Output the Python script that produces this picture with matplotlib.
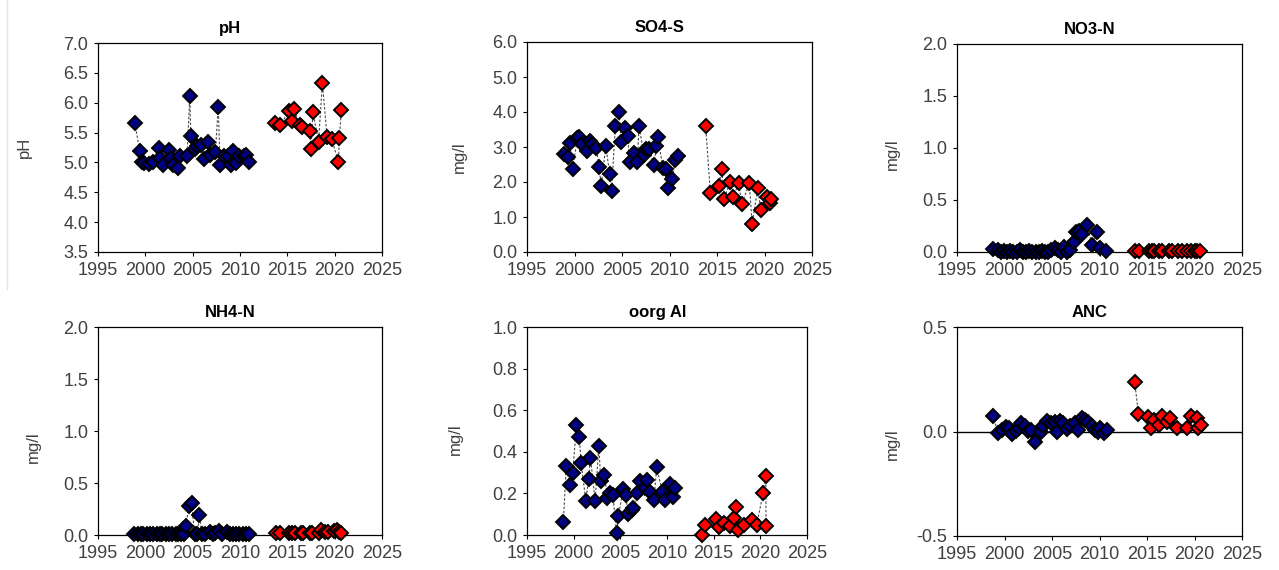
import matplotlib
matplotlib.use("Agg")
import matplotlib.pyplot as plt
from matplotlib.lines import Line2D

plt.rcParams["font.family"] = ["Liberation Sans", "DejaVu Sans"]

# --- data (decimal years) ---
ph_blue_x = [1998.9, 1999.4, 1999.6, 1999.9, 2000.4, 2000.8, 2001.4, 2001.6, 2001.9, 2002.5,
             2002.7, 2002.9, 2003.5, 2003.7, 2004.4, 2004.7, 2004.8, 2005.2, 2005.5, 2005.9,
             2006.2, 2006.6, 2006.8, 2007.4, 2007.7, 2007.9, 2008.3, 2008.7, 2009.0, 2009.3,
             2009.6, 2009.9, 2010.4, 2010.6, 2010.9]
ph_blue_y = [5.66, 5.19, 5.01, 4.99, 4.98, 5.00, 5.24, 5.07, 4.96, 5.21,
             5.07, 4.96, 4.91, 5.10, 5.10, 6.12, 5.45, 5.23, 5.27, 5.29,
             5.06, 5.34, 5.13, 5.17, 5.93, 4.95, 5.10, 5.10, 4.96, 5.19,
             4.99, 5.10, 5.10, 5.13, 5.01]
ph_red_x = [2013.7, 2014.2, 2015.2, 2015.5, 2015.7, 2016.3, 2016.6, 2017.4, 2017.5, 2017.7,
            2018.3, 2018.7, 2019.2, 2019.7, 2020.4, 2020.5, 2020.7]
ph_red_y = [5.66, 5.62, 5.86, 5.70, 5.90, 5.62, 5.59, 5.52, 5.23, 5.84,
            5.35, 6.33, 5.43, 5.39, 5.00, 5.41, 5.87]

so4_blue_x = [1998.9, 1999.3, 1999.5, 1999.8, 2000.3, 2000.5, 2000.8, 2001.3, 2001.6, 2001.8,
              2002.3, 2002.6, 2002.8, 2003.3, 2003.7, 2003.9, 2004.3, 2004.7, 2004.9, 2005.3,
              2005.6, 2005.8, 2006.3, 2006.6, 2006.8, 2007.3, 2007.5, 2007.8, 2008.4, 2008.6,
              2008.8, 2009.3, 2009.6, 2009.8, 2010.3, 2010.6, 2010.9]
so4_blue_y = [2.79, 2.72, 3.12, 2.36, 3.25, 3.30, 3.09, 2.90, 3.18, 3.10,
              2.96, 2.44, 1.89, 3.03, 2.23, 1.75, 3.61, 4.01, 3.15, 3.53,
              3.32, 2.58, 2.84, 2.56, 3.61, 2.77, 2.94, 2.94, 2.48, 3.03,
              3.28, 2.39, 2.36, 1.82, 2.08, 2.63, 2.74]
so4_red_x = [2013.8, 2014.3, 2015.2, 2015.5, 2015.7, 2016.4, 2016.7, 2017.3, 2017.6, 2018.4,
             2018.7, 2019.3, 2019.6, 2020.3, 2020.6, 2020.7]
so4_red_y = [3.61, 1.70, 1.89, 2.37, 1.51, 1.99, 1.58, 1.96, 1.37, 1.96,
             0.81, 1.83, 1.19, 1.58, 1.40, 1.51]

no3_blue_x = [1998.8, 1999.3, 1999.6, 1999.9, 2000.3, 2000.6, 2000.9, 2001.3, 2001.6, 2001.9,
              2002.3, 2002.6, 2002.9, 2003.3, 2003.6, 2003.9, 2004.3, 2004.6, 2004.9, 2005.3,
              2005.6, 2005.9, 2006.3, 2006.6, 2006.9, 2007.3, 2007.5, 2007.8, 2008.2, 2008.7,
              2009.2, 2009.7, 2010.1, 2010.7]
no3_blue_y = [0.03, 0.02, 0.00, 0.01, 0.00, 0.01, 0.00, 0.00, 0.02, 0.00,
              0.00, 0.01, 0.00, 0.00, 0.00, 0.01, 0.00, 0.00, 0.02, 0.04,
              0.02, 0.00, 0.05, 0.00, 0.02, 0.10, 0.19, 0.20, 0.17, 0.26,
              0.07, 0.19, 0.04, 0.01]
no3_red_x = [2013.7, 2014.2, 2015.2, 2015.5, 2015.7, 2016.3, 2016.6, 2017.3, 2017.6, 2018.3,
             2018.7, 2019.2, 2019.6, 2020.0, 2020.3, 2020.6]
no3_red_y = [0.005, 0.005, 0.005, 0.005, 0.01, 0.005, 0.005, 0.01, 0.005, 0.005,
             0.005, 0.005, 0.005, 0.005, 0.005, 0.005]

nh4_blue_x = [1998.8, 1999.2, 1999.5, 1999.8, 2000.2, 2000.5, 2000.8, 2001.2, 2001.5, 2001.8,
              2002.2, 2002.5, 2002.8, 2003.2, 2003.5, 2003.8, 2004.1, 2004.3, 2004.6, 2004.9,
              2005.2, 2005.5, 2005.7, 2006.0, 2006.3, 2006.8, 2007.1, 2007.4, 2007.8, 2008.1,
              2008.6, 2008.9, 2009.3, 2009.6, 2009.9, 2010.3, 2010.6, 2010.9]
nh4_blue_y = [0.005, 0.005, 0.005, 0.005, 0.005, 0.005, 0.005, 0.005, 0.005, 0.005,
              0.005, 0.005, 0.005, 0.005, 0.005, 0.005, 0.005, 0.09, 0.28, 0.31,
              0.005, 0.005, 0.19, 0.005, 0.005, 0.03, 0.005, 0.02, 0.04, 0.005,
              0.03, 0.005, 0.005, 0.005, 0.005, 0.005, 0.005, 0.005]
nh4_red_x = [2013.8, 2014.2, 2015.2, 2015.5, 2015.8, 2016.4, 2016.7, 2017.4, 2017.6, 2018.3,
             2018.6, 2019.0, 2019.3, 2019.9, 2020.2, 2020.5, 2020.7]
nh4_red_y = [0.02, 0.02, 0.02, 0.02, 0.02, 0.02, 0.02, 0.02, 0.02, 0.02,
             0.05, 0.03, 0.03, 0.04, 0.05, 0.03, 0.02]

al_blue_x = [1998.9, 1999.2, 1999.6, 1999.9, 2000.3, 2000.6, 2000.8, 2001.3, 2001.6, 2001.8,
             2002.3, 2002.7, 2002.9, 2003.3, 2003.6, 2003.9, 2004.2, 2004.6, 2004.8, 2005.3,
             2005.6, 2005.8, 2006.3, 2006.4, 2006.8, 2007.1, 2007.6, 2007.9, 2008.2, 2008.6,
             2008.9, 2009.5, 2009.8, 2010.3, 2010.6, 2010.9]
al_blue_y = [0.064, 0.33, 0.24, 0.30, 0.53, 0.47, 0.345, 0.165, 0.27, 0.37,
             0.165, 0.43, 0.26, 0.29, 0.18, 0.20, 0.19, 0.008, 0.09, 0.22,
             0.19, 0.10, 0.12, 0.13, 0.20, 0.26, 0.225, 0.265, 0.205, 0.17,
             0.325, 0.205, 0.17, 0.245, 0.185, 0.225]
al_red_x = [2013.8, 2014.1, 2015.2, 2015.6, 2016.1, 2016.7, 2017.2, 2017.4, 2017.6, 2018.3,
            2019.1, 2019.6, 2020.3, 2020.6, 2020.6]
al_red_y = [0.002, 0.05, 0.077, 0.04, 0.06, 0.045, 0.08, 0.135, 0.025, 0.05,
            0.07, 0.048, 0.20, 0.285, 0.045]

anc_blue_x = [1998.8, 1999.3, 1999.7, 2000.2, 2000.5, 2000.8, 2001.2, 2001.5, 2001.7, 2002.2,
              2002.5, 2002.8, 2003.2, 2003.8, 2004.1, 2004.5, 2004.9, 2005.3, 2005.5, 2005.8,
              2006.2, 2006.6, 2006.9, 2007.4, 2007.7, 2008.2, 2008.5, 2008.8, 2009.2, 2009.5,
              2009.8, 2010.1, 2010.5, 2010.8]
anc_blue_y = [0.076, -0.005, 0.008, 0.02, 0.016, -0.013, 0.003, 0.015, 0.04, 0.024,
              0.003, 0.008, -0.048, 0.0, 0.024, 0.05, 0.039, 0.044, 0.0, 0.05,
              0.039, 0.011, 0.027, 0.04, 0.006, 0.064, 0.055, 0.044, 0.027, 0.008,
              0.0, 0.015, -0.005, 0.008]
anc_red_x = [2013.7, 2014.1, 2015.1, 2015.4, 2015.7, 2016.3, 2016.6, 2017.1, 2017.4, 2018.2,
             2019.2, 2019.6, 2020.3, 2020.4, 2020.7]
anc_red_y = [0.239, 0.084, 0.068, 0.016, 0.055, 0.032, 0.073, 0.044, 0.063, 0.019,
             0.019, 0.073, 0.065, 0.019, 0.032]

titles = ["pH", "SO4-S", "NO3-N", "NH4-N", "oorg Al", "ANC"]
ylabels = ["pH", "mg/l", "mg/l", "mg/l", "mg/l", "mg/l"]
ylims = [(3.5, 7.0), (0.0, 6.0), (0.0, 2.0), (0.0, 2.0), (0.0, 1.0), (-0.5, 0.5)]
ysteps = [0.5, 1.0, 0.5, 0.5, 0.2, 0.5]
series = [
    (ph_blue_x, ph_blue_y, ph_red_x, ph_red_y),
    (so4_blue_x, so4_blue_y, so4_red_x, so4_red_y),
    (no3_blue_x, no3_blue_y, no3_red_x, no3_red_y),
    (nh4_blue_x, nh4_blue_y, nh4_red_x, nh4_red_y),
    (al_blue_x, al_blue_y, al_red_x, al_red_y),
    (anc_blue_x, anc_blue_y, anc_red_x, anc_red_y),
]

BLUE = "#000080"
RED = "#ff0000"
LINE = "#4a4a4a"
TICK = "#404040"

W, H = 1279, 570
# axes boxes in pixels: left, top, right, bottom
boxes = [(98, 43, 382, 252), (527, 42, 812, 252), (957, 44, 1242, 252),
         (98, 327, 382, 535), (527, 327, 807, 535), (957, 327, 1242, 536)]
ylab_x = [-0.232, -0.211, -0.200, -0.200, -0.228, -0.200]
ylab_y = [0.50, 0.45, 0.47, 0.42, 0.46, 0.44]

fig = plt.figure(figsize=(W / 100, H / 100), dpi=100, facecolor="white")

for i, (l, t, r, b) in enumerate(boxes):
    ax = fig.add_axes([l / W, 1 - b / H, (r - l) / W, (b - t) / H])
    bx, by, rx, ry = series[i]
    for xs, ys, col in [(bx, by, BLUE), (rx, ry, RED)]:
        ax.plot(xs, ys, color=LINE, lw=0.8, ls=(0, (2.2, 1.6)), zorder=2)
        ax.plot(xs, ys, ls="none", marker="D", ms=7.0, mfc=col, mec="black",
                mew=1.4, zorder=3, clip_on=False)

    lo, hi = ylims[i]
    ax.set_xlim(1995, 2025)
    ax.set_ylim(lo, hi)
    ax.set_xticks(range(1995, 2026, 5))
    n = int(round((hi - lo) / ysteps[i]))
    ax.set_yticks([lo + k * ysteps[i] for k in range(n + 1)])
    ax.yaxis.set_major_formatter(plt.FormatStrFormatter("%.1f"))
    ax.tick_params(direction="out", length=3, width=0.8, colors="black",
                   labelcolor=TICK, labelsize=13, pad=4)
    for sp in ax.spines.values():
        sp.set_color("black")
        sp.set_linewidth(0.9)
    if lo < 0 < hi:
        ax.axhline(0, color="black", lw=1.0, zorder=1)

    ax.set_title(titles[i], fontsize=12, fontweight="bold", x=0.465, pad=7)
    ax.set_ylabel(ylabels[i], fontsize=12, color=TICK)
    ax.yaxis.set_label_coords(ylab_x[i], ylab_y[i])

# faint border line at the left edge of the upper row
fig.add_artist(Line2D([7 / W, 7 / W], [1 - 289 / H, 1.0], color="#e4e4e4", lw=1.0))

fig.savefig("out.png", dpi=100, facecolor="white")
